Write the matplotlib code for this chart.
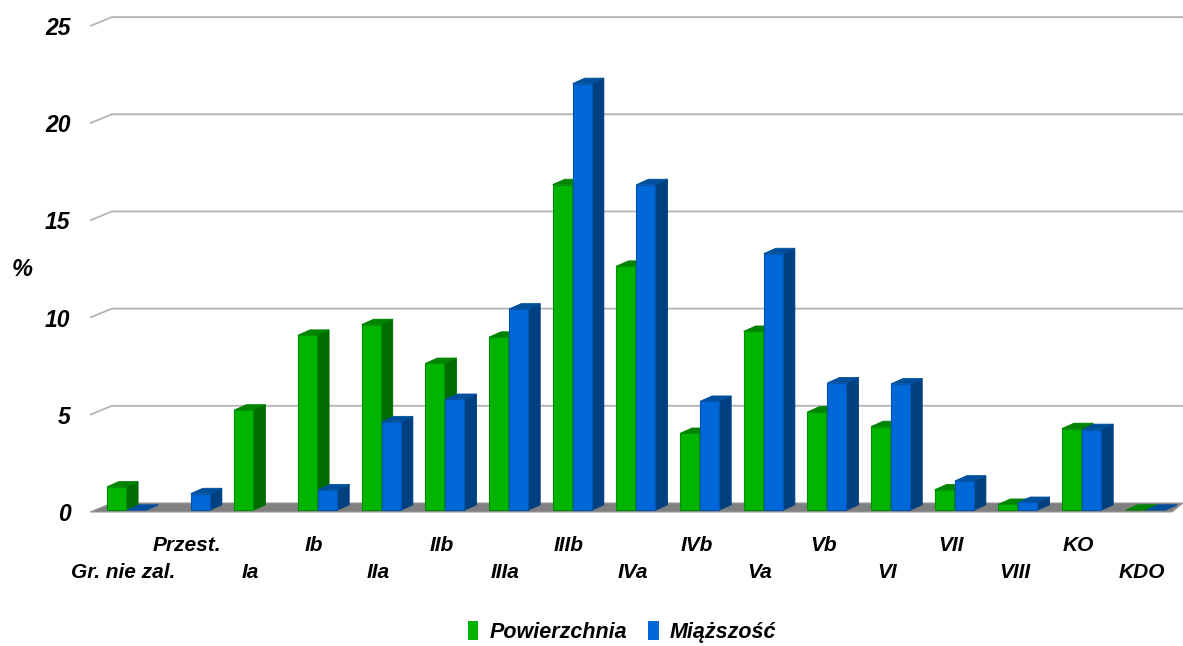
import numpy as np
import matplotlib
matplotlib.use("Agg")
import matplotlib.pyplot as plt
from matplotlib.patches import Polygon, Patch

categories = ["Gr. nie zal.", "Przest.", "Ia", "Ib", "IIa", "IIb", "IIIa", "IIIb",
              "IVa", "IVb", "Va", "Vb", "VI", "VII", "VIII", "KO", "KDO"]
powierzchnia = [1.2, np.nan, 5.15, 9.0, 9.55, 7.55, 8.9, 16.75, 12.55, 3.95,
                9.2, 5.05, 4.3, 1.05, 0.3, 4.2, 0.0]
miazszosc = [0.0, 0.85, np.nan, 1.05, 4.55, 5.7, 10.35, 21.95, 16.75, 5.6,
             13.2, 6.55, 6.5, 1.5, 0.4, 4.15, 0.0]
yticks = [0, 5, 10, 15, 20, 25]
series_names = ["Powierzchnia", "Miąższość"]

W, H = 1183, 646
fig = plt.figure(figsize=(W / 100, H / 100), dpi=100)
ax = fig.add_axes([90 / W, 134 / H, 1093 / W, 504 / H])
XL, XR = -0.5733, 16.594
ax.set_xlim(XL, XR)
ax.set_ylim(0, 25.93)
for s in ax.spines.values():
    s.set_visible(False)

font = dict(family=["Liberation Sans", "DejaVu Sans"], weight="bold", style="italic")

# depth of the floor/wall in data units
DX, DY = 0.3455, 0.463
# bar depth, starting a quarter into the floor
bdx, bdy = 0.55 * DX, 0.6 * DY
base = 0.2 * DY

# gridlines on back wall
for v in yticks[1:]:
    ax.plot([XL, XL + DX, XR], [v, v + DY, v + DY], color="#b4b4b4", lw=1.3,
            zorder=1, clip_on=False, solid_capstyle="butt")
# floor
floor = Polygon([(XL, 0), (16.42, 0), (XR, DY), (XL + DX, DY)], closed=True,
                facecolor="#808080", edgecolor="#9a9a9a", lw=0.8, zorder=2, clip_on=False)
ax.add_patch(floor)

x = np.arange(len(categories))
bw = 0.30
offs = [-0.158, 0.158]
styles = [
    dict(front="#00b400", side="#006c00", top="#008400", edge="#009000"),
    dict(front="#0068d8", side="#003f80", top="#004f9c", edge="#0055b0"),
]

z = 3
for i in range(len(categories)):
    for k, vals in enumerate([powierzchnia, miazszosc]):
        v = vals[i]
        if np.isnan(v):
            continue
        st = styles[k]
        x0 = x[i] + offs[k] - bw / 2
        x1 = x0 + bw
        top = base + v
        side = Polygon([(x1, base), (x1 + bdx, base + bdy), (x1 + bdx, top + bdy), (x1, top)],
                       closed=True, facecolor=st["side"], edgecolor=st["side"], lw=0.6, zorder=z)
        lid = Polygon([(x0, top), (x1, top), (x1 + bdx, top + bdy), (x0 + bdx, top + bdy)],
                      closed=True, facecolor=st["top"], edgecolor=st["top"], lw=0.6, zorder=z)
        ax.add_patch(side)
        ax.add_patch(lid)
        if v > 0:
            ax.bar(x[i] + offs[k], v, width=bw, bottom=base, color=st["front"],
                   edgecolor=st["edge"], linewidth=0.8, zorder=z + 0.5)
        z += 1

ax.set_yticks(yticks)
ax.set_yticklabels([str(t) for t in yticks], fontsize=16.5, **font)
ax.tick_params(axis="y", length=0, pad=14)
ax.set_xticks([])

# staggered category labels
for i, c in enumerate(categories):
    ypix = 546 if i % 2 == 1 else 573
    ax.text(x[i] - 0.05, (512 - ypix) / 19.44, c, fontsize=15, ha="center", va="center",
            clip_on=False, **font)

fig.text(22 / W, 1 - 270 / H, "%", fontsize=17, ha="center", va="center", **font)

handles = [Patch(facecolor=styles[0]["front"]), Patch(facecolor=styles[1]["front"])]
leg = fig.legend(handles, series_names, loc="center", bbox_to_anchor=(622 / W, 1 - 632 / H),
                 ncol=2, frameon=False, handlelength=0.5, handleheight=1.0,
                 handletextpad=0.5, columnspacing=1.0,
                 prop=dict(family="Liberation Sans", weight="bold", style="italic", size=15.5))

fig.savefig("out.png", dpi=100)
